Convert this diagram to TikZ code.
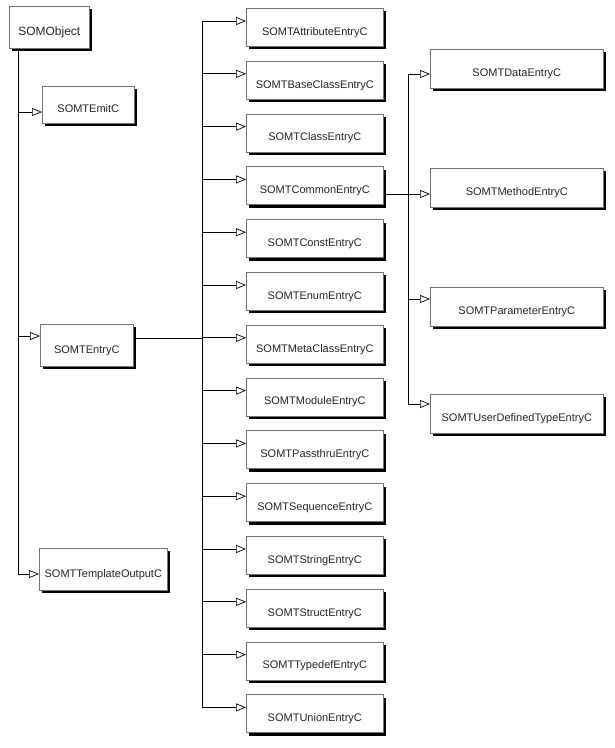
\documentclass[tikz,border=0pt]{standalone}
\usepackage{fontspec}
\setmainfont{Liberation Sans}
\usetikzlibrary{arrows.meta,shadows}
\begin{document}
\begin{tikzpicture}[x=1pt,y=-1pt,
  cls/.style={draw=black!55, line width=0.6pt, fill=white, text=black!85,
    font=\fontsize{11}{13}\selectfont, anchor=north west, inner sep=0pt,
    text height=16pt, text depth=0pt,
    drop shadow={shadow xshift=3pt, shadow yshift=-3pt, fill=black, opacity=1}},
  inh/.style={draw=black, line width=0.7pt, -{Triangle[open, length=10pt, width=8pt]}},
  ln/.style={draw=black, line width=0.7pt}]
\useasboundingbox (0,0) rectangle (615,748);

% left column
\node[cls, minimum width=80pt, minimum height=42pt, font=\fontsize{12}{14}\selectfont] (somobject) at (9,6) {SOMObject};
\node[cls, minimum width=92pt, minimum height=37pt] (emit) at (42,86) {SOMTEmitC};
\node[cls, minimum width=93pt, minimum height=42pt] (entry) at (40,324) {SOMTEntryC};
\node[cls, minimum width=128pt, minimum height=42pt] (tmpl) at (39,548) {SOMTTemplateOutputC};

\coordinate (jl) at ([xshift=9pt]somobject.south west);
\draw[inh] (jl) |- ([yshift=-26pt]emit.north west);
\draw[inh] (jl) |- ([yshift=-12pt]entry.north west);
\draw[inh] (jl) |- ([yshift=-26pt]tmpl.north west);

% middle column
\coordinate (jm) at (202,338);
\draw[ln] (entry.east |- jm) -- (jm);
\foreach \n/\t [count=\i from 0] in {
  attr/SOMTAttributeEntryC, base/SOMTBaseClassEntryC, class/SOMTClassEntryC,
  common/SOMTCommonEntryC, const/SOMTConstEntryC, enum/SOMTEnumEntryC,
  meta/SOMTMetaClassEntryC, module/SOMTModuleEntryC, pass/SOMTPassthruEntryC,
  seq/SOMTSequenceEntryC, string/SOMTStringEntryC, struct/SOMTStructEntryC,
  typedef/SOMTTypedefEntryC, union/SOMTUnionEntryC}{
  \node[cls, minimum width=137pt, minimum height=38pt] (\n) at (246, 8+52.8*\i) {\t};
  \draw[inh] (jm) |- ([yshift=-13pt]\n.north west);
}

% right column
\node[cls, minimum width=173pt, minimum height=39pt] (data) at (430,49) {SOMTDataEntryC};
\node[cls, minimum width=173pt, minimum height=39pt] (method) at (430,168) {SOMTMethodEntryC};
\node[cls, minimum width=173pt, minimum height=39pt] (param) at (430,287) {SOMTParameterEntryC};
\node[cls, minimum width=173pt, minimum height=39pt] (udt) at (430,394) {SOMTUserDefinedTypeEntryC};

\coordinate (jr) at (408,194);
\draw[ln] (common.east |- jr) -- (jr);
\draw[inh] (jr) |- ([yshift=-25pt]data.north west);
\draw[inh] (jr) |- ([yshift=-26pt]method.north west);
\draw[inh] (jr) |- ([yshift=-12pt]param.north west);
\draw[inh] (jr) |- ([yshift=-10pt]udt.north west);
\end{tikzpicture}
\end{document}
